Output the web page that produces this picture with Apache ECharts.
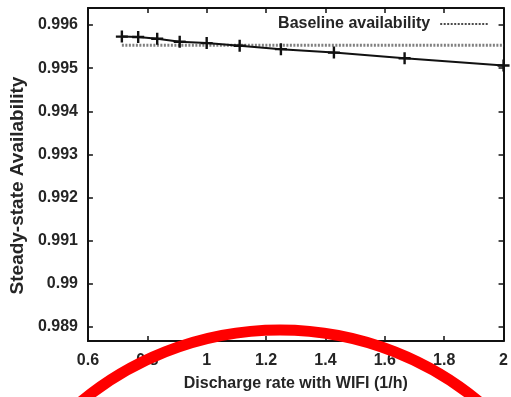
<!DOCTYPE html>
<html>
<head>
<meta charset="utf-8">
<script src="https://cdn.jsdelivr.net/npm/echarts@6/dist/echarts.min.js"></script>
<style>html,body{margin:0;padding:0;background:#fff;}#c{width:511px;height:397px;}</style>
</head>
<body>
<div id="c"></div>
<script>
// ---- data ----
const dischargeRate = [10/14, 10/13, 10/12, 10/11, 1.0, 10/9, 1.25, 10/7, 10/6, 2.0];
const availability  = [0.99573, 0.99572, 0.99568, 0.99561, 0.99558, 0.99552, 0.99544, 0.99536, 0.99523, 0.99506];
const baselineX     = [10/14, 2.0];
const baselineValue = 0.99553;
const yTicks = [0.989, 0.990, 0.991, 0.992, 0.993, 0.994, 0.995, 0.996];
const xTicks = [0.6, 0.8, 1.0, 1.2, 1.4, 1.6, 1.8, 2.0];
const seriesName = 'Steady-state availability';
const baselineName = 'Baseline availability';

const font = 'Liberation Sans, Arial, sans-serif';
const txt = '#252525';
const axisCol = '#111';

const chart = echarts.init(document.getElementById('c'), null, {renderer: 'canvas'});
const mainData = dischargeRate.map((x, i) => [x, availability[i]]);
const baseData = baselineX.map(x => [x, baselineValue]);

const yMin = 0.988677, yMax = 0.996393;
const commonX = {
  type: 'value', min: 0.6, max: 2, interval: 0.2,
  splitLine: {show: false},
  axisLine: {show: true, lineStyle: {color: axisCol, width: 2}},
  axisTick: {show: true, inside: true, length: 5, lineStyle: {color: axisCol, width: 1.5}}
};
const commonY = {
  type: 'value', min: yMin, max: yMax, scale: true,
  splitLine: {show: false},
  axisLine: {show: true, lineStyle: {color: axisCol, width: 2}},
  axisTick: {show: true, inside: true, length: 5, customValues: yTicks, lineStyle: {color: axisCol, width: 1.5}}
};

chart.setOption({
  animation: false,
  backgroundColor: '#fff',
  grid: {left: 87, top: 8, right: 4, bottom: 55, containLabel: false},
  legend: {
    show: true,
    data: [baselineName],
    right: 17, top: 11,
    align: 'right',
    itemWidth: 48, itemHeight: 14,
    itemStyle: {opacity: 0},
    textStyle: {fontFamily: font, fontWeight: 'bold', fontSize: 16, color: txt, padding: [0, 5, 0, 0]},
    lineStyle: {color: '#111', width: 1.6, type: [2, 1.5], opacity: 1}
  },
  xAxis: [
    Object.assign({}, commonX, {
      position: 'bottom',
      name: 'Discharge rate with WIFI (1/h)', nameLocation: 'middle', nameGap: 35,
      nameTextStyle: {fontFamily: font, fontWeight: 'bold', fontSize: 16, color: txt},
      axisLabel: {show: true, margin: 12, fontFamily: font, fontWeight: 'bold', fontSize: 16, color: txt}
    }),
    Object.assign({}, commonX, {position: 'top', axisLabel: {show: false}})
  ],
  yAxis: [
    Object.assign({}, commonY, {
      position: 'left',
      name: 'Steady-state Availability', nameLocation: 'middle', nameGap: 60, nameRotate: 90,
      nameTextStyle: {fontFamily: font, fontWeight: 'bold', fontSize: 19, color: txt, padding: [0, 22, 0, 0]},
      axisLabel: {show: true, margin: 10, customValues: yTicks, fontFamily: font, fontWeight: 'bold', fontSize: 16, color: txt}
    }),
    Object.assign({}, commonY, {position: 'right', axisLabel: {show: false}})
  ],
  series: [
    {
      name: baselineName, type: 'line', data: baseData,
      symbol: 'none', silent: true,
      lineStyle: {color: '#808080', width: 3, type: [2, 1.5]},
      z: 2
    },
    {
      name: seriesName, type: 'line', data: mainData,
      symbol: 'path://M4,0 H6 V4 H10 V6 H6 V10 H4 V6 H0 V4 H4 Z', symbolSize: 12,
      itemStyle: {color: '#111'},
      lineStyle: {color: '#111', width: 2},
      z: 3
    }
  ],
  graphic: [
    {
      type: 'circle', z: 100, silent: true,
      shape: {cx: 280, cy: 642, r: 312},
      style: {fill: 'none', stroke: '#ff0000', lineWidth: 11}
    }
  ]
});
</script>
</body>
</html>
